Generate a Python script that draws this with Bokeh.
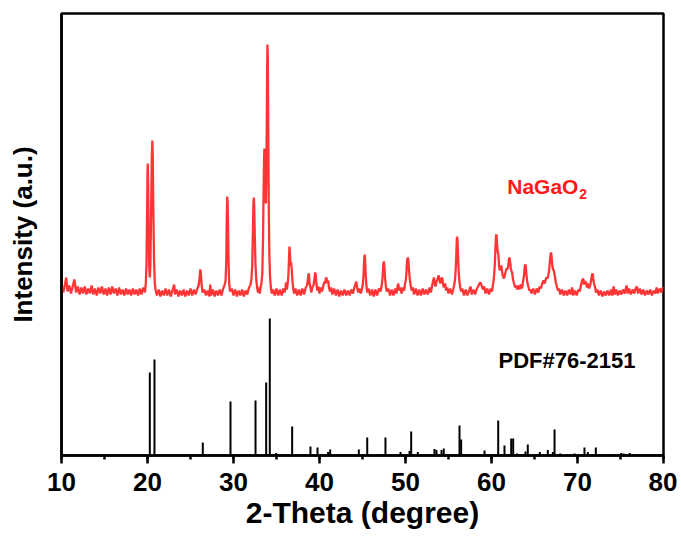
from bokeh.plotting import figure
from bokeh.models import Range1d, SingleIntervalTicker, FixedTicker, Label
from bokeh.embed import file_html
from bokeh.resources import INLINE

# Observed pattern (2-theta in degrees, intensity in a.u., already offset above the reference pattern)
obs_pattern = [
    (10.0, 170), (10.2, 163), (10.4, 171), (10.55, 178), (10.7, 164), (10.9, 170), (11.1, 162), (11.3, 169),
    (11.5, 176), (11.7, 163), (11.9, 169), (12.1, 161), (12.3, 168), (12.5, 162), (12.7, 169), (12.9, 161),
    (13.1, 167), (13.3, 162), (13.5, 170), (13.7, 161), (13.9, 167), (14.1, 160), (14.3, 168), (14.5, 162),
    (14.7, 169), (14.9, 161), (15.1, 167), (15.3, 160), (15.5, 168), (15.7, 161), (15.9, 169), (16.1, 162),
    (16.3, 167), (16.5, 160), (16.7, 168), (16.9, 161), (17.1, 166), (17.3, 160), (17.5, 167), (17.7, 161),
    (17.9, 166), (18.1, 160), (18.3, 167), (18.5, 161), (18.7, 166), (18.9, 160), (19.1, 167), (19.3, 161),
    (19.5, 168), (19.7, 163),
    (19.8, 172), (19.88, 190), (19.95, 240), (20.0, 282), (20.03, 292), (20.07, 275), (20.13, 225), (20.2, 188),
    (20.27, 178), (20.34, 192), (20.42, 245), (20.5, 298), (20.56, 315), (20.61, 300), (20.68, 245), (20.76, 195),
    (20.85, 172), (20.95, 165),
    (21.1, 160), (21.3, 166), (21.5, 159), (21.7, 165), (21.9, 160), (22.1, 167), (22.3, 160), (22.5, 166),
    (22.7, 159), (22.9, 165), (23.1, 171), (23.2, 161), (23.4, 166), (23.6, 159), (23.8, 165), (24.0, 160),
    (24.2, 166), (24.4, 159), (24.6, 165), (24.8, 160), (25.0, 167), (25.2, 160), (25.4, 166), (25.6, 161),
    (25.8, 167),
    (25.95, 170), (26.05, 177), (26.12, 185), (26.16, 186), (26.22, 180), (26.3, 170), (26.4, 163),
    (26.6, 166), (26.8, 160), (27.0, 165), (27.2, 159), (27.3, 171), (27.4, 160), (27.6, 166), (27.8, 159),
    (28.0, 165), (28.2, 160), (28.4, 166), (28.6, 160), (28.8, 167), (28.95, 170),
    (29.08, 175), (29.16, 195), (29.22, 240), (29.27, 259), (29.31, 254), (29.36, 235), (29.42, 195), (29.5, 172),
    (29.6, 164),
    (29.8, 167), (30.0, 160), (30.2, 166), (30.4, 159), (30.6, 165), (30.8, 160), (31.0, 166), (31.2, 159),
    (31.4, 165), (31.6, 161), (31.8, 168), (31.95, 170),
    (32.08, 176), (32.18, 190), (32.26, 225), (32.32, 252), (32.36, 258), (32.41, 250), (32.47, 222), (32.55, 192),
    (32.65, 175), (32.75, 168), (32.85, 163), (32.95, 168), (33.05, 162), (33.15, 168),
    (33.25, 172), (33.35, 182), (33.43, 215), (33.5, 265), (33.56, 300), (33.6, 307), (33.65, 295), (33.71, 262),
    (33.76, 252), (33.81, 275), (33.86, 318), (33.91, 385), (33.95, 411), (33.99, 398), (34.04, 330), (34.1, 250),
    (34.17, 200), (34.25, 178), (34.35, 168), (34.45, 162),
    (34.6, 166), (34.8, 160), (35.0, 167), (35.2, 160), (35.4, 166), (35.6, 160), (35.8, 167),
    (35.95, 163), (36.05, 168), (36.12, 173), (36.2, 166), (36.3, 172), (36.38, 180), (36.45, 196), (36.51, 209),
    (36.57, 201), (36.63, 190), (36.7, 193), (36.76, 188), (36.84, 176), (36.93, 168), (37.05, 162),
    (37.2, 167), (37.4, 160), (37.6, 166), (37.8, 160), (38.0, 167), (38.2, 161), (38.4, 168), (38.55, 170),
    (38.65, 176), (38.72, 182), (38.77, 181), (38.85, 172), (38.95, 168), (39.05, 163), (39.15, 168), (39.3, 170),
    (39.42, 177), (39.5, 183), (39.56, 181), (39.64, 172), (39.74, 165), (39.85, 169),
    (40.0, 162), (40.15, 168), (40.3, 164), (40.45, 170), (40.58, 174), (40.68, 172), (40.76, 178), (40.82, 177),
    (40.9, 173), (41.0, 175), (41.1, 168), (41.22, 164), (41.35, 168),
    (41.5, 161), (41.7, 167), (41.9, 160), (42.1, 166), (42.3, 159), (42.5, 165), (42.7, 160), (42.9, 166),
    (43.1, 160), (43.3, 165), (43.5, 160), (43.7, 166), (43.9, 162), (44.05, 168),
    (44.15, 170), (44.27, 174), (44.37, 168), (44.5, 163), (44.65, 167), (44.8, 162), (44.95, 167), (45.05, 172),
    (45.13, 182), (45.2, 196), (45.25, 201), (45.3, 197), (45.36, 183), (45.45, 170), (45.55, 163),
    (45.7, 167), (45.9, 160), (46.1, 166), (46.3, 159), (46.5, 166), (46.7, 160), (46.9, 167), (47.1, 164),
    (47.25, 171), (47.35, 180), (47.42, 192), (47.48, 194), (47.54, 190), (47.62, 178), (47.72, 169), (47.82, 164),
    (48.0, 167), (48.2, 160), (48.4, 166), (48.6, 160), (48.8, 167), (48.95, 162), (49.1, 170), (49.17, 172),
    (49.25, 165), (49.4, 168), (49.55, 162), (49.7, 168),
    (49.85, 165), (49.95, 172), (50.05, 176), (50.12, 185), (50.2, 196), (50.27, 198), (50.34, 195), (50.42, 184),
    (50.5, 176), (50.6, 170), (50.72, 165), (50.85, 168),
    (51.0, 161), (51.2, 167), (51.4, 160), (51.6, 166), (51.8, 160), (52.0, 167), (52.2, 161), (52.4, 166),
    (52.6, 161), (52.8, 168), (52.95, 163), (53.1, 170),
    (53.2, 174), (53.3, 178), (53.38, 174), (53.48, 169), (53.58, 173), (53.7, 176), (53.8, 179), (53.87, 180),
    (53.95, 175), (54.05, 172), (54.15, 176), (54.26, 178), (54.35, 173), (54.45, 168), (54.6, 172), (54.72, 165),
    (54.85, 168),
    (55.0, 162), (55.2, 167), (55.4, 161), (55.55, 166), (55.65, 170),
    (55.75, 175), (55.83, 185), (55.9, 200), (55.96, 215), (56.0, 219), (56.05, 215), (56.11, 200), (56.18, 185),
    (56.26, 175), (56.36, 168), (56.48, 164),
    (56.6, 167), (56.8, 160), (57.0, 166), (57.2, 160), (57.4, 165), (57.56, 169), (57.7, 161), (57.9, 166),
    (58.1, 161), (58.3, 167), (58.45, 169), (58.6, 172), (58.72, 173), (58.85, 170), (59.0, 166), (59.15, 169),
    (59.3, 162), (59.5, 167), (59.7, 161), (59.9, 167), (60.05, 164), (60.18, 171),
    (60.28, 178), (60.38, 190), (60.46, 208), (60.53, 220), (60.58, 221), (60.64, 212), (60.72, 204), (60.8, 201),
    (60.88, 190), (60.96, 185), (61.05, 188), (61.13, 190), (61.2, 186), (61.3, 180), (61.44, 177), (61.55, 180),
    (61.65, 184), (61.74, 187), (61.85, 186), (61.95, 190), (62.03, 196), (62.09, 198), (62.16, 194), (62.25, 187),
    (62.33, 184), (62.4, 183), (62.5, 176), (62.62, 172), (62.75, 168), (62.88, 170), (62.98, 166),
    (63.1, 170), (63.25, 166), (63.4, 171), (63.55, 167), (63.68, 175),
    (63.78, 180), (63.86, 188), (63.92, 191), (63.98, 190), (64.05, 182), (64.15, 174), (64.28, 169), (64.4, 165),
    (64.5, 166),
    (64.65, 162), (64.85, 167), (65.05, 161), (65.25, 167), (65.45, 163), (65.6, 169), (65.75, 167), (65.9, 172),
    (66.05, 175), (66.18, 172), (66.3, 176), (66.4, 178), (66.5, 177), (66.6, 180), (66.7, 185), (66.8, 195),
    (66.87, 201), (66.93, 203), (66.99, 199), (67.07, 190), (67.16, 186), (67.25, 185), (67.35, 180), (67.48, 173),
    (67.6, 169), (67.72, 165), (67.85, 167),
    (68.0, 161), (68.2, 166), (68.4, 160), (68.6, 165), (68.8, 160), (69.0, 166), (69.2, 161), (69.38, 168),
    (69.5, 160), (69.7, 165), (69.9, 160), (70.1, 166), (70.25, 164),
    (70.4, 170), (70.5, 174), (70.6, 176), (70.66, 177), (70.75, 171), (70.85, 174), (71.0, 173), (71.1, 168),
    (71.2, 172), (71.35, 167), (71.5, 171), (71.62, 177), (71.7, 181), (71.76, 182), (71.83, 177), (71.92, 172),
    (72.05, 168), (72.15, 163),
    (72.3, 166), (72.5, 160), (72.7, 165), (72.9, 159), (73.1, 164), (73.3, 160), (73.5, 165), (73.7, 160),
    (73.9, 166), (74.05, 160), (74.2, 169), (74.35, 161), (74.5, 166), (74.7, 160), (74.9, 165), (75.1, 161),
    (75.3, 166), (75.5, 162), (75.7, 170), (75.85, 162), (76.0, 167), (76.2, 161), (76.4, 166), (76.6, 162),
    (76.75, 167), (76.9, 169), (77.05, 162), (77.25, 167), (77.45, 161), (77.65, 166), (77.85, 160), (78.05, 165),
    (78.25, 161), (78.45, 166), (78.65, 160), (78.85, 165), (79.05, 162), (79.2, 168), (79.35, 162), (79.55, 167),
    (79.75, 163), (79.9, 168), (80.0, 167),
]
obs_two_theta = [t for t, _ in obs_pattern]
obs_intensity = [i for _, i in obs_pattern]

# Reference card PDF#76-2151 (2-theta, stick height in a.u.)
pdf_sticks = [
    (20.27, 83), (20.81, 96), (26.43, 13), (29.65, 54), (32.56, 55), (33.80, 73), (34.22, 137), (34.96, 2.5),
    (36.82, 29), (38.95, 9), (39.77, 8), (41.00, 3.5), (41.24, 6), (44.57, 6), (45.55, 18), (47.67, 18),
    (49.42, 3.5), (50.47, 4.5), (50.66, 24), (51.43, 3.5), (53.37, 6.5), (53.60, 5.5), (54.19, 5.5), (54.45, 7),
    (56.28, 30), (56.47, 16), (59.19, 5), (60.78, 35), (61.51, 10), (62.29, 17), (62.52, 17), (62.98, 2),
    (63.95, 4), (64.22, 11), (65.62, 3.5), (66.55, 5.5), (67.13, 3.5), (67.33, 26), (68.00, 2), (69.65, 2),
    (70.81, 8), (71.20, 3.5), (72.13, 8), (74.42, 1), (75.08, 2.5), (75.38, 2), (76.08, 2.5), (76.63, 1.5),
    (77.33, 1.5), (78.99, 1.5), (79.65, 1.5),
]
pdf_two_theta = [t for t, _ in pdf_sticks]
pdf_intensity = [h for _, h in pdf_sticks]
pdf_base = [0 for _ in pdf_sticks]

x_ticks_interval = 10
FONT = "Liberation Sans"

p = figure(width=677, height=538, x_range=Range1d(10, 80), y_range=Range1d(0, 442),
           output_backend="svg", toolbar_location=None,
           min_border_left=61, min_border_right=14, min_border_top=13, min_border_bottom=83)
p.grid.visible = False
p.outline_line_color = "black"
p.outline_line_width = 2.5
p.outline_line_alpha = 1.0
p.background_fill_color = "white"
p.border_fill_color = "white"

p.line(obs_two_theta, obs_intensity, line_color="#ff2a2a", line_width=2.3, line_alpha=0.95)
p.segment(x0=pdf_two_theta, y0=pdf_base, x1=pdf_two_theta, y1=pdf_intensity,
          line_color="black", line_width=2)

xa = p.xaxis[0]
xa.ticker = SingleIntervalTicker(interval=x_ticks_interval, num_minor_ticks=2)
xa.axis_line_width = 2.5
xa.major_tick_line_width = 2.5
xa.minor_tick_line_width = 2.5
xa.major_tick_in = 0
xa.major_tick_out = 8
xa.minor_tick_in = 0
xa.minor_tick_out = 4
xa.major_label_text_font = FONT
xa.major_label_text_font_style = "bold"
xa.major_label_text_font_size = "26px"
xa.major_label_text_color = "black"
xa.major_label_standoff = 9
xa.axis_label = "2-Theta (degree)"
xa.axis_label_text_font = FONT
xa.axis_label_text_font_style = "bold"
xa.axis_label_text_font_size = "30px"
xa.axis_label_text_color = "black"
xa.axis_label_standoff = 2

ya = p.yaxis[0]
ya.ticker = FixedTicker(ticks=[])
ya.axis_line_width = 2.5
ya.major_tick_in = 0
ya.major_tick_out = 0
ya.minor_tick_in = 0
ya.minor_tick_out = 0
ya.major_label_standoff = 0
ya.axis_label = "Intensity (a.u.)"
ya.axis_label_text_font = FONT
ya.axis_label_text_font_style = "bold"
ya.axis_label_text_font_size = "26px"
ya.axis_label_text_color = "black"
ya.axis_label_standoff = 24

red = "#ff1a1a"
p.add_layout(Label(x=61.83, y=269, text="NaGaO", text_font=FONT, text_font_style="bold",
                   text_font_size="21px", text_color=red, text_baseline="alphabetic", text_align="left"))
p.add_layout(Label(x=61.83, y=269, x_offset=72, y_offset=-7, text="2", text_font=FONT,
                   text_font_style="bold", text_font_size="14px", text_color=red,
                   text_baseline="alphabetic", text_align="left"))
p.add_layout(Label(x=60.81, y=95, text="PDF#76-2151", text_font=FONT, text_font_style="bold",
                   text_font_size="22px", text_color="black", text_baseline="alphabetic", text_align="left"))

open("out.html", "w").write(file_html(p, INLINE))
